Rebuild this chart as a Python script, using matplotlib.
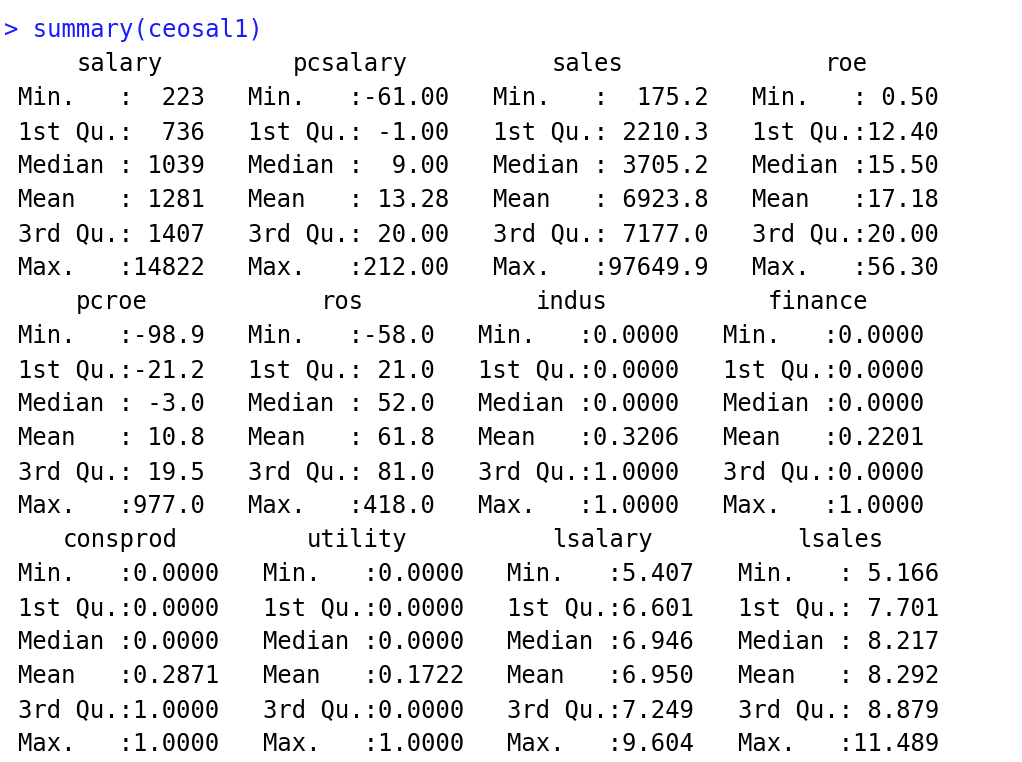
import matplotlib
matplotlib.use("Agg")
import matplotlib.pyplot as plt

command = "> summary(ceosal1)"
stat_labels = ["Min.   :", "1st Qu.:", "Median :", "Mean   :", "3rd Qu.:", "Max.   :"]

block1_names = ["salary", "pcsalary", "sales", "roe"]
block1_vals = [
    ["  223", "  736", " 1039", " 1281", " 1407", "14822"],
    ["-61.00", " -1.00", "  9.00", " 13.28", " 20.00", "212.00"],
    ["  175.2", " 2210.3", " 3705.2", " 6923.8", " 7177.0", "97649.9"],
    [" 0.50", "12.40", "15.50", "17.18", "20.00", "56.30"],
]
block2_names = ["pcroe", "ros", "indus", "finance"]
block2_vals = [
    ["-98.9", "-21.2", " -3.0", " 10.8", " 19.5", "977.0"],
    ["-58.0", " 21.0", " 52.0", " 61.8", " 81.0", "418.0"],
    ["0.0000", "0.0000", "0.0000", "0.3206", "1.0000", "1.0000"],
    ["0.0000", "0.0000", "0.0000", "0.2201", "0.0000", "1.0000"],
]
block3_names = ["consprod", "utility", "lsalary", "lsales"]
block3_vals = [
    ["0.0000", "0.0000", "0.0000", "0.2871", "1.0000", "1.0000"],
    ["0.0000", "0.0000", "0.0000", "0.1722", "0.0000", "1.0000"],
    ["5.407", "6.601", "6.946", "6.950", "7.249", "9.604"],
    [" 5.166", " 7.701", " 8.217", " 8.292", " 8.879", "11.489"],
]

fig = plt.figure(figsize=(10.22, 7.62), dpi=100)
ax = fig.add_axes([0, 0, 1, 1])
ax.set_xlim(0, 1022)
ax.set_ylim(762, 0)
ax.axis("off")

font = dict(family="DejaVu Sans Mono", fontsize=17.2, va="center")
ax.text(4, 30, command, color="#1a1aff", **font)

blocks = [
    (block1_names, block1_vals, 64, [18, 248, 493, 752], [120, 350, 588, 846]),
    (block2_names, block2_vals, 302, [18, 248, 478, 723], [112, 342, 572, 818]),
    (block3_names, block3_vals, 540, [18, 263, 507, 738], [120, 357, 602, 840]),
]
row_h = 34
for names, vals, y0, xs, hx in blocks:
    for name, col, x, cx in zip(names, vals, xs, hx):
        ax.text(cx, y0, name, ha="center", color="black", **font)
        for i, (lab, v) in enumerate(zip(stat_labels, col)):
            ax.text(x, y0 + row_h * (i + 1), lab + v, ha="left", color="black", **font)

fig.savefig("out.png", dpi=100, facecolor="white")
